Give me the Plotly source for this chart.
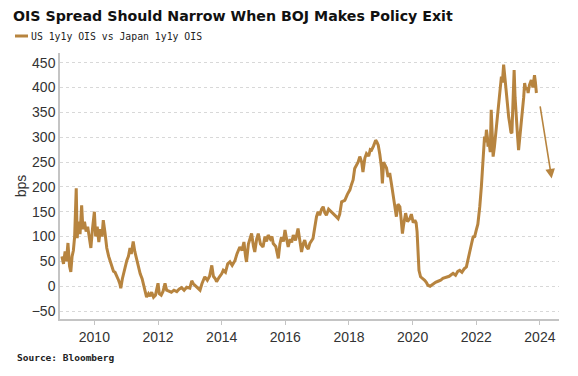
import plotly.graph_objects as go

# ---- data (decimal year, spread in bps) ----
series_name = "US 1y1y OIS vs Japan 1y1y OIS"
years = [
    2008.98, 2009.03, 2009.08, 2009.12, 2009.17, 2009.22, 2009.26, 2009.30, 2009.34, 2009.38,
    2009.43, 2009.46, 2009.50, 2009.55, 2009.60, 2009.64, 2009.69, 2009.74, 2009.79, 2009.84,
    2009.89, 2009.94, 2010.00, 2010.04, 2010.09, 2010.14, 2010.19, 2010.24, 2010.28, 2010.33,
    2010.39, 2010.45, 2010.50, 2010.55, 2010.60, 2010.65, 2010.70, 2010.76, 2010.80, 2010.83,
    2010.88, 2010.95, 2011.02, 2011.07, 2011.12, 2011.16, 2011.22, 2011.27, 2011.32, 2011.38,
    2011.44, 2011.50, 2011.54, 2011.60, 2011.64, 2011.70, 2011.75, 2011.80, 2011.86, 2011.92,
    2012.00, 2012.04, 2012.10, 2012.16, 2012.22, 2012.27, 2012.35, 2012.42, 2012.50, 2012.59,
    2012.66, 2012.74, 2012.82, 2012.90, 2013.00, 2013.06, 2013.11, 2013.18, 2013.25, 2013.32,
    2013.38, 2013.47, 2013.55, 2013.62, 2013.69, 2013.74, 2013.80, 2013.84, 2013.92, 2014.00,
    2014.05, 2014.12, 2014.19, 2014.26, 2014.33, 2014.42, 2014.48, 2014.57, 2014.64, 2014.70,
    2014.75, 2014.78, 2014.84, 2014.89, 2014.94, 2015.00, 2015.04, 2015.10, 2015.15, 2015.22,
    2015.30, 2015.36, 2015.41, 2015.46, 2015.53, 2015.58, 2015.62, 2015.70, 2015.78, 2015.83,
    2015.88, 2015.94, 2015.99, 2016.04, 2016.09, 2016.15, 2016.20, 2016.25, 2016.32, 2016.40,
    2016.46, 2016.51, 2016.56, 2016.61, 2016.66, 2016.72, 2016.77, 2016.82, 2016.87, 2016.93,
    2016.98, 2017.03, 2017.08, 2017.14, 2017.19, 2017.24, 2017.29, 2017.36, 2017.45, 2017.52,
    2017.60, 2017.66, 2017.71, 2017.77, 2017.87, 2017.95, 2018.03, 2018.08, 2018.13, 2018.18,
    2018.24, 2018.29, 2018.34, 2018.40, 2018.44, 2018.50, 2018.55, 2018.62, 2018.67, 2018.71,
    2018.77, 2018.84, 2018.88, 2018.92, 2018.97, 2019.02, 2019.05, 2019.09, 2019.13, 2019.18,
    2019.23, 2019.28, 2019.34, 2019.39, 2019.44, 2019.49, 2019.54, 2019.60, 2019.64, 2019.68,
    2019.72, 2019.78, 2019.84, 2019.91, 2019.96, 2020.02, 2020.07, 2020.11, 2020.14, 2020.17,
    2020.20, 2020.25, 2020.31, 2020.38, 2020.43, 2020.48, 2020.55, 2020.64, 2020.72, 2020.80,
    2020.88, 2020.95, 2021.05, 2021.15, 2021.27, 2021.35, 2021.42, 2021.48, 2021.55, 2021.62,
    2021.69, 2021.74, 2021.79, 2021.85, 2021.90, 2021.95, 2022.00, 2022.05, 2022.11, 2022.14,
    2022.16, 2022.19, 2022.21, 2022.24, 2022.26, 2022.29, 2022.32, 2022.35, 2022.37, 2022.40,
    2022.44, 2022.47, 2022.50, 2022.53, 2022.57, 2022.60, 2022.63, 2022.68, 2022.73, 2022.76,
    2022.79, 2022.82, 2022.86, 2022.90, 2022.94, 2022.98, 2023.02, 2023.05, 2023.09, 2023.12,
    2023.15, 2023.19, 2023.22, 2023.26, 2023.30, 2023.33, 2023.37, 2023.42, 2023.46, 2023.49,
    2023.52, 2023.56, 2023.60, 2023.63, 2023.67, 2023.73, 2023.78, 2023.83, 2023.86, 2023.89,
]
spread_bps = [
    60, 45, 70, 50, 87, 40, 29, 60, 72, 100,
    197, 97, 130, 105, 163, 115, 130, 110, 120, 100,
    77, 115, 150, 100, 120, 89, 115, 100, 133, 110,
    77, 60, 50, 39, 30, 28, 22, 12, 5, -4,
    15, 35, 52, 60, 77, 65, 90, 70, 55, 39,
    25, 15, 6, -10, -22, -15, -20, -12, -22, -18,
    6, -15, -18, -10, 6, -8, -10, -12, -8, -11,
    -6, -3, -8, -2, -4, 11, 5, 0, -5, -8,
    5, 19, 12, 20, 42, 20, 15, 9, 18, 25,
    32, 28, 45, 49, 42, 52, 65, 79, 72, 89,
    60, 49, 85, 95, 106, 80, 69, 95, 106, 85,
    79, 100, 90, 103, 95, 100, 86, 80, 56, 85,
    99, 90, 113, 95, 79, 95, 88, 103, 92, 116,
    87, 69, 85, 93, 80, 75, 86, 92, 96, 120,
    140, 150, 143, 155, 160, 148, 143, 155, 150, 145,
    140, 136, 145, 170, 173, 185, 194, 205, 214, 237,
    245, 250, 261, 250, 230, 258, 267, 262, 275, 274,
    282, 294, 290, 284, 265, 240, 207, 250, 244, 238,
    220, 228, 204, 185, 160, 140, 165, 160, 135, 106,
    125, 147, 130, 136, 145, 128, 133, 128, 110, 60,
    32, 19, 16, 12, 8, 2, 0, 5, 8, 10,
    12, 16, 18, 20, 26, 22, 30, 32, 28, 35,
    39, 55, 73, 85, 99, 100, 113, 125, 160, 180,
    200, 230, 254, 290, 301, 290, 315, 300, 281, 290,
    270, 355, 290, 261, 280, 300, 321, 345, 375, 400,
    422, 410, 446, 420, 389, 360, 340, 328, 310, 308,
    350, 435, 380, 328, 300, 274, 300, 321, 350, 380,
    409, 395, 400, 389, 405, 415, 400, 425, 410, 389,
]
x_ticks = [2010, 2012, 2014, 2016, 2018, 2020, 2022, 2024]
x_tick_labels = ["2010", "2012", "2014", "2016", "2018", "2020", "2022", "2024"]
y_ticks = [-50, 0, 50, 100, 150, 200, 250, 300, 350, 400, 450]
# projected narrowing arrow (start -> end)
arrow_start = (2024.0, 365)
arrow_end = (2024.37, 217)

LINE = "#B7843F"
W, H = 578, 376
L, R, T, B = 60, 19, 53, 57
pw, ph = W - L - R, H - T - B

def px_x(p):
    return (p - L) / pw

def px_y(p):
    return (H - B - p) / ph

fig = go.Figure()
fig.add_trace(go.Scatter(
    x=years, y=spread_bps, mode="lines", name=series_name,
    line=dict(color=LINE, width=3), showlegend=False,
))

fig.add_annotation(
    x=arrow_end[0], y=arrow_end[1], ax=arrow_start[0], ay=arrow_start[1],
    xref="x", yref="y", axref="x", ayref="y",
    showarrow=True, arrowhead=2, arrowsize=1.2, arrowwidth=1.6,
    arrowcolor=LINE, text="",
)

# legend (drawn manually for a short swatch)
fig.add_shape(type="line", xref="paper", yref="paper",
              x0=px_x(15), x1=px_x(28), y0=px_y(36), y1=px_y(36),
              line=dict(color=LINE, width=3))
fig.add_annotation(text=series_name, xref="paper", yref="paper",
                   x=px_x(29), y=px_y(36), xanchor="left", yanchor="middle",
                   showarrow=False,
                   font=dict(family="DejaVu Sans Mono", size=9.8, color="#222"))
# source
fig.add_annotation(text="<b>Source: Bloomberg</b>", xref="paper", yref="paper",
                   x=px_x(15), y=px_y(357), xanchor="left", yanchor="middle",
                   showarrow=False,
                   font=dict(family="DejaVu Sans Mono", size=9.5, color="#222"))

fig.update_layout(
    width=W, height=H,
    margin=dict(l=L, r=R, t=T, b=B, autoexpand=False),
    paper_bgcolor="white", plot_bgcolor="white",
    title=dict(text="<b>OIS Spread Should Narrow When BOJ Makes Policy Exit</b>",
               xref="container", yref="container",
               x=13 / W, y=1 - 16 / H, xanchor="left", yanchor="middle",
               font=dict(family="DejaVu Sans", size=14.2, color="#111")),
    font=dict(family="Liberation Sans", size=14, color="#333"),
)
fig.update_xaxes(
    range=[2008.92, 2024.6], tickvals=x_ticks, ticktext=x_tick_labels,
    showgrid=False, showline=True, linecolor="#c4c4c4", linewidth=1.5,
    ticks="outside", ticklen=4, tickcolor="#c4c4c4", automargin=False,
    tickfont=dict(size=14, color="#333"), zeroline=False,
)
fig.update_yaxes(
    range=[-66, 469.5], tickvals=y_ticks, automargin=False,
    showgrid=True, gridcolor="#d8d8d8", griddash="dot", gridwidth=1,
    showline=True, linecolor="#c4c4c4", linewidth=1.5, ticks="",
    zeroline=False, tickfont=dict(size=14, color="#333"),
    title=dict(text="bps", font=dict(size=14, color="#333"), standoff=2),
)

fig.write_html("out.html", config={"displayModeBar": False},
               post_script="document.body.style.margin='0';")
